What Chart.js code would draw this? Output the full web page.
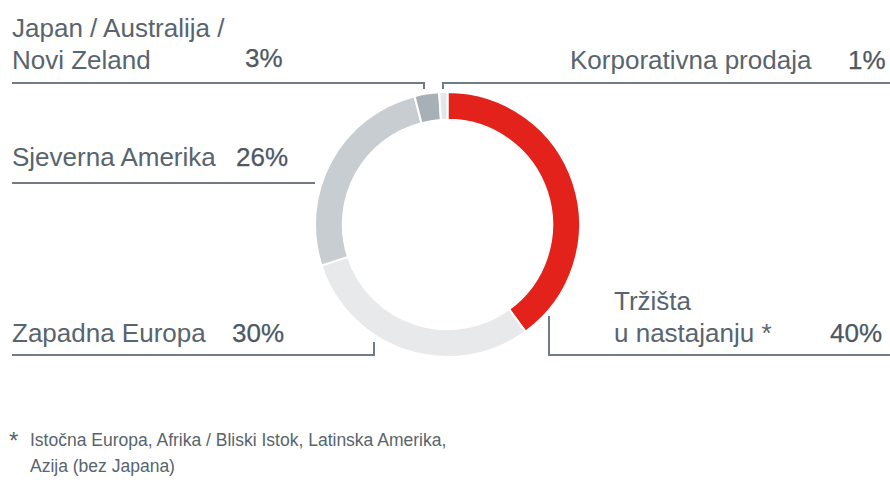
<!DOCTYPE html>
<html lang="hr">
<head>
    <meta charset="UTF-8">
    <title>Prodaja po regijama</title>
    <script src="https://cdn.jsdelivr.net/npm/chart.js"></script>
    <style>
        body { margin: 0; width: 890px; height: 482px; position: relative; background: #fff; overflow: hidden;
               font-family: "Liberation Sans", Arial, sans-serif; color: #58646e; }
        .lbl { position: absolute; font-size: 26px; line-height: 26px; white-space: nowrap; }
        .pct { position: absolute; font-size: 26px; line-height: 26px; color: #4c5862; -webkit-text-stroke: 0.25px #4c5862; }
        .ln { position: absolute; background: #6f7b85; }
        .note { position: absolute; font-size: 17.5px; line-height: 18px; color: #58646e; white-space: nowrap; }
        #wrap { position: absolute; left: 314px; top: 91px; width: 267px; height: 267px; }
    </style>
</head>
<body>
    <div id="wrap"><canvas id="donut" width="267" height="267"></canvas></div>
    <div id="labels"></div>

    <div class="ln" style="left:12px; top:82px; width:413px; height:2px;"></div>
    <div class="ln" style="left:423px; top:82px; width:2px; height:7px;"></div>
    <div class="ln" style="left:442px; top:82px; width:448px; height:2px;"></div>
    <div class="ln" style="left:442px; top:82px; width:2px; height:7px;"></div>
    <div class="ln" style="left:12px; top:182px; width:303px; height:2px;"></div>
    <div class="ln" style="left:12px; top:354px; width:363px; height:2px;"></div>
    <div class="ln" style="left:373px; top:342px; width:2px; height:14px;"></div>
    <div class="ln" style="left:548px; top:316px; width:2px; height:40px;"></div>
    <div class="ln" style="left:548px; top:354px; width:342px; height:2px;"></div>

    <div class="note" style="left:9px; top:429px; font-size:24px; line-height:24px;">*</div>
    <div class="note" style="left:30px; top:431px;">Istočna Europa, Afrika / Bliski Istok, Latinska Amerika,</div>
    <div class="note" style="left:30px; top:457px;">Azija (bez Japana)</div>

    <script>
        // clockwise from 12 o'clock
        const regions = ['Tržišta u nastajanju *', 'Zapadna Europa', 'Sjeverna Amerika', 'Japan / Australija / Novi Zeland', 'Korporativna prodaja'];
        const shares = [40, 30, 26, 3, 1];
        const colors = ['#e3231b', '#e8e9eb', '#c8cdd1', '#a8b0b7', '#e3e7ea'];

        // label lines as printed, and where each sits (baseline y)
        const labelLines = [
            ['Tržišta', 'u nastajanju *'],
            ['Zapadna Europa'],
            ['Sjeverna Amerika'],
            ['Japan / Australija /', 'Novi Zeland'],
            ['Korporativna prodaja']
        ];
        const labelPos = [
            { x: 614, y: 310, px: 830, py: 342 },
            { x: 12, y: 342, px: 232, py: 342 },
            { x: 12, y: 166, px: 236, py: 166 },
            { x: 12, y: 37, px: 245, py: 67 },
            { x: 570, y: 69, px: 848, py: 69 }
        ];

        const box = document.getElementById('labels');
        labelLines.forEach((lines, i) => {
            const p = labelPos[i];
            lines.forEach((t, j) => {
                const d = document.createElement('div');
                d.className = 'lbl';
                d.textContent = t;
                d.style.left = p.x + 'px';
                d.style.top = (p.y + j * 32 - 22) + 'px';
                box.appendChild(d);
            });
            const s = document.createElement('div');
            s.className = 'pct';
            s.textContent = shares[i] + '%';
            s.style.left = p.px + 'px';
            s.style.top = (p.py - 22) + 'px';
            box.appendChild(s);
        });

        new Chart(document.getElementById('donut'), {
            type: 'doughnut',
            data: {
                labels: regions,
                datasets: [{
                    data: shares,
                    backgroundColor: colors,
                    borderColor: '#ffffff',
                    borderWidth: 2
                }]
            },
            options: {
                responsive: false,
                animation: false,
                cutout: '79%',
                plugins: { legend: { display: false }, tooltip: { enabled: false } }
            }
        });
    </script>
</body>
</html>
